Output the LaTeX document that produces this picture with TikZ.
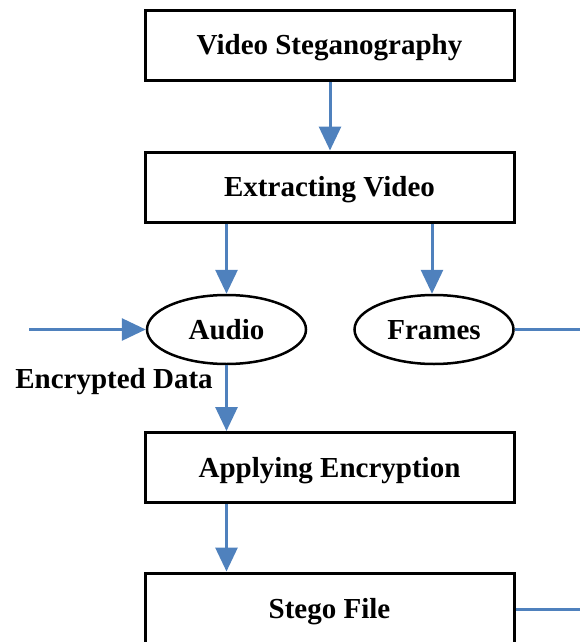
\documentclass[tikz,border=0pt]{standalone}
\usepackage{fontspec}
\setmainfont{Liberation Serif}
\usetikzlibrary{shapes.geometric,arrows.meta}
\definecolor{flowblue}{RGB}{79,129,189}
\begin{document}
\begin{tikzpicture}[x=1pt,y=-1pt,
  every node/.style={font=\fontsize{29}{34}\selectfont\bfseries,text height=20pt,text depth=1pt},
  stepbox/.style={draw=black,line width=3pt,rectangle,minimum width=369pt,minimum height=70pt,inner sep=0pt},
  oval/.style={draw=black,line width=2.5pt,ellipse,minimum width=159pt,minimum height=69pt,inner sep=0pt},
  flow/.style={draw=flowblue,line width=3pt},
  flowarrow/.style={flow,-{Triangle[length=24pt,width=22pt]}}]
\useasboundingbox (0,0) rectangle (580,642);
\clip (0,0) rectangle (580,642);

% process boxes
\node[stepbox] (vs) at (329.5,45.5) {Video Steganography};
\node[stepbox] (ev) at (329.5,187) {Extracting Video};
\node[stepbox] (ae) at (329.5,467.5) {Applying Encryption};
\node[stepbox,minimum height=72pt] (sf) at (329.5,609) {Stego File};

% extracted streams
\node[oval] (audio) at (226.5,329.5) {Audio};
\node[oval] (frames) at (434,329.5) {Frames};

% label of the incoming data
\node (encl) at (114,378.5) {Encrypted Data};

% loose ends of the side connectors
\coordinate (encin) at (29,329.5);
\coordinate (frout) at (580,329.5);
\coordinate (sfout) at (580,609);

% connectors
\draw[flowarrow] (vs.south -| 330,0) -- (ev.north -| 330,0);
\draw[flowarrow] (ev.south -| audio.north) -- (audio.north);
\draw[flowarrow] (ev.south -| 432,0) -- (frames.north -| 432,0);
\draw[flowarrow] (encin) -- (audio.west);
\draw[flowarrow] (audio.south) -- (ae.north -| audio.south);
\draw[flowarrow] (ae.south -| audio.south) -- (sf.north -| audio.south);
\draw[flow] (frames.east) -- (frout);
\draw[flow] (sf.east) -- (sfout);
\end{tikzpicture}
\end{document}
